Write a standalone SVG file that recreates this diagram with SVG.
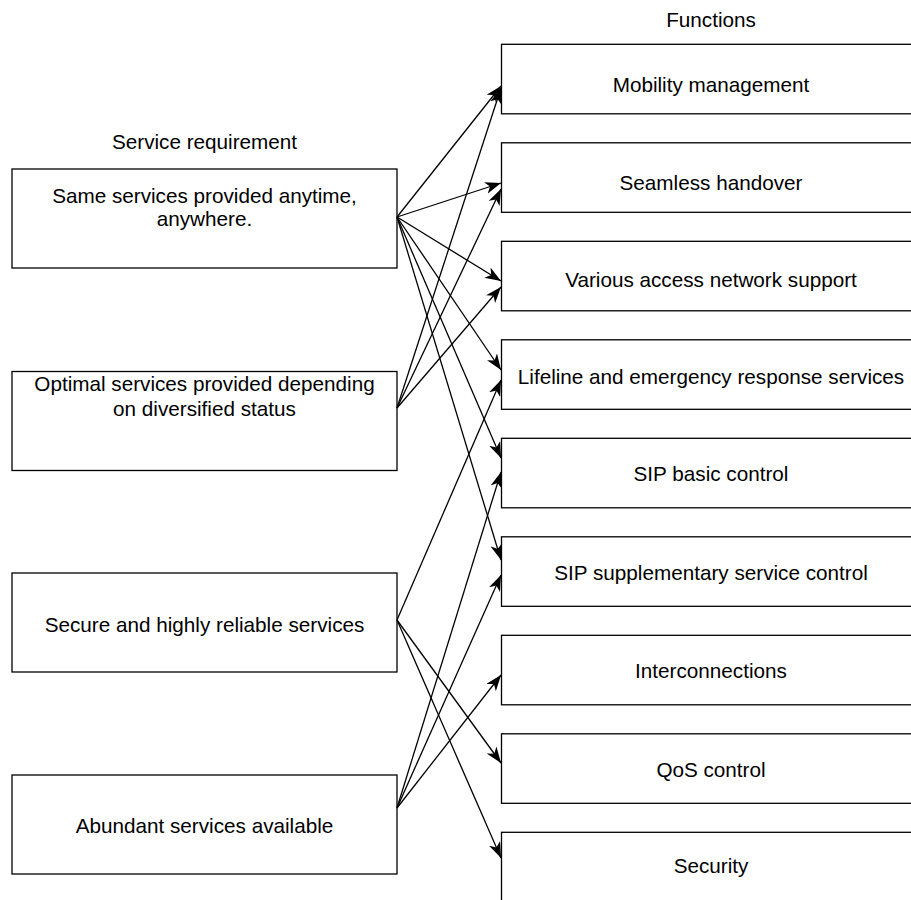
<svg xmlns="http://www.w3.org/2000/svg" width="911" height="900" viewBox="0 0 911 900">
  <style>
    .box { fill: #ffffff; stroke: #000000; stroke-width: 1.3; }
    .lbl { font-family: "Liberation Sans", Arial, sans-serif; font-size: 20.7px; fill: #000000; text-anchor: middle; }
    .edge { fill: none; stroke: #000000; stroke-width: 1.3; marker-end: url(#arrow); }
  </style>
  <defs>
    <marker id="arrow" viewBox="0 0 16 12" refX="16" refY="6" markerWidth="16" markerHeight="12" markerUnits="userSpaceOnUse" orient="auto">
      <path d="M0,0 L16,6 L0,12 L4.5,6 Z" fill="#000000"/>
    </marker>
  </defs>
  <rect width="911" height="900" fill="#ffffff"/>

  <!-- column headings -->
  <text class="lbl" x="204.5" y="149">Service requirement</text>
  <text class="lbl" x="711" y="27">Functions</text>

  <!-- service requirements -->
  <g id="req-anytime">
    <rect class="box" x="12" y="169" width="385" height="99"/>
    <text class="lbl" x="204.5" y="203">Same services provided anytime,</text>
    <text class="lbl" x="204.5" y="226">anywhere.</text>
  </g>
  <g id="req-optimal">
    <rect class="box" x="12" y="371.5" width="385" height="99"/>
    <text class="lbl" x="204.5" y="391">Optimal services provided depending</text>
    <text class="lbl" x="204.5" y="416">on diversified status</text>
  </g>
  <g id="req-secure">
    <rect class="box" x="12" y="573" width="385" height="99"/>
    <text class="lbl" x="204.5" y="632">Secure and highly reliable services</text>
  </g>
  <g id="req-abundant">
    <rect class="box" x="12" y="775" width="385" height="99"/>
    <text class="lbl" x="204.5" y="833">Abundant services available</text>
  </g>

  <!-- functions -->
  <g id="fn-mobility">
    <rect class="box" x="501.5" y="44.3" width="419" height="69.5"/>
    <text class="lbl" x="711" y="92">Mobility management</text>
  </g>
  <g id="fn-handover">
    <rect class="box" x="501.5" y="142.8" width="419" height="69.5"/>
    <text class="lbl" x="711" y="190">Seamless handover</text>
  </g>
  <g id="fn-access">
    <rect class="box" x="501.5" y="241.3" width="419" height="69.5"/>
    <text class="lbl" x="711" y="287">Various access network support</text>
  </g>
  <g id="fn-lifeline">
    <rect class="box" x="501.5" y="339.8" width="419" height="69.5"/>
    <text class="lbl" x="711" y="384">Lifeline and emergency response services</text>
  </g>
  <g id="fn-sip-basic">
    <rect class="box" x="501.5" y="438.3" width="419" height="69.5"/>
    <text class="lbl" x="711" y="481">SIP basic control</text>
  </g>
  <g id="fn-sip-supp">
    <rect class="box" x="501.5" y="536.8" width="419" height="69.5"/>
    <text class="lbl" x="711" y="580">SIP supplementary service control</text>
  </g>
  <g id="fn-interconnect">
    <rect class="box" x="501.5" y="635.3" width="419" height="69.5"/>
    <text class="lbl" x="711" y="678">Interconnections</text>
  </g>
  <g id="fn-qos">
    <rect class="box" x="501.5" y="733.8" width="419" height="69.5"/>
    <text class="lbl" x="711" y="777">QoS control</text>
  </g>
  <g id="fn-security">
    <rect class="box" x="501.5" y="832.3" width="419" height="69.5"/>
    <text class="lbl" x="711" y="873">Security</text>
  </g>

  <!-- connectors -->
  <g id="connectors">
    <line class="edge" x1="397" y1="217" x2="501" y2="86"/>
    <line class="edge" x1="397" y1="217" x2="501" y2="183"/>
    <line class="edge" x1="397" y1="217" x2="501" y2="281"/>
    <line class="edge" x1="397" y1="217" x2="501" y2="370"/>
    <line class="edge" x1="397" y1="217" x2="501" y2="458"/>
    <line class="edge" x1="397" y1="217" x2="501" y2="560"/>

    <line class="edge" x1="397" y1="408" x2="501" y2="88"/>
    <line class="edge" x1="397" y1="408" x2="501" y2="189"/>
    <line class="edge" x1="397" y1="408" x2="501" y2="287"/>

    <line class="edge" x1="397" y1="620" x2="501" y2="380"/>
    <line class="edge" x1="397" y1="620" x2="501" y2="763"/>
    <line class="edge" x1="397" y1="620" x2="501" y2="858"/>

    <line class="edge" x1="397" y1="808" x2="501" y2="472"/>
    <line class="edge" x1="397" y1="808" x2="501" y2="575"/>
    <line class="edge" x1="397" y1="808" x2="501" y2="675"/>
  </g>
</svg>
